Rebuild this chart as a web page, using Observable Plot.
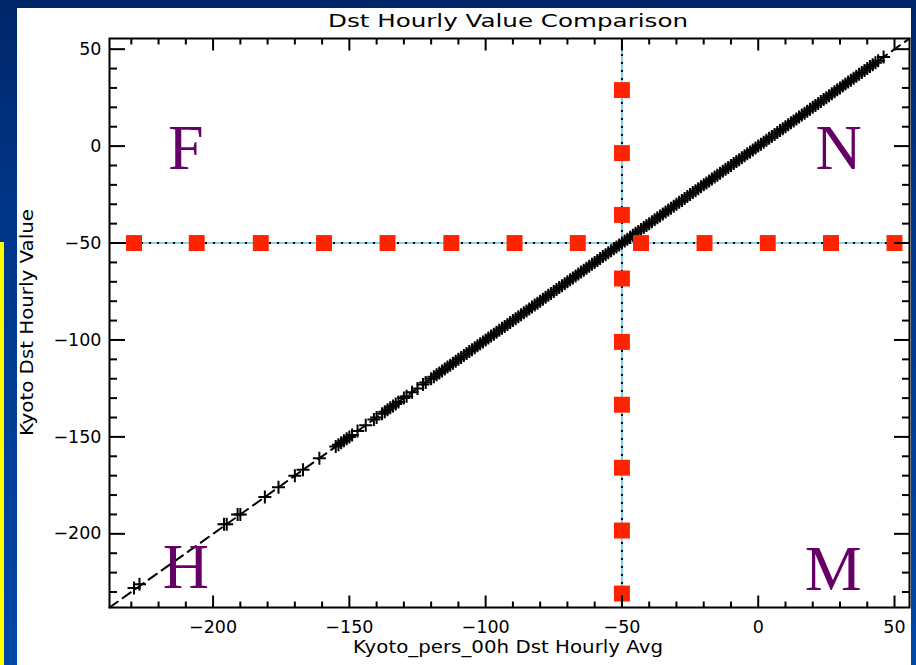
<!DOCTYPE html>
<html><head><meta charset="utf-8">
<script src="https://cdn.jsdelivr.net/npm/d3@7"></script>
<script src="https://cdn.jsdelivr.net/npm/@observablehq/plot@0.6"></script>
<style>
body{margin:0;}
#wrap{position:relative;width:916px;height:665px;overflow:hidden;background:linear-gradient(to bottom,#00266a 0%,#00378a 35%,#0047a6 100%);}
#yellow{position:absolute;left:0;top:242px;width:4px;height:423px;background:#ffff00;}
#panel{position:absolute;left:17px;top:8px;width:894px;height:657px;background:#fff;}
#chart{position:absolute;left:0;top:0;}
</style></head><body>
<div id="wrap"><div id="yellow"></div><div id="panel"></div><div id="chart"></div></div>
<script>
const titleText = "Dst Hourly Value Comparison";
const xLabel = "Kyoto_pers_00h Dst Hourly Avg";
const yLabel = "Kyoto Dst Hourly Value";
const axisDomain = [-238, 55.5];
const majorTicks = [-200, -150, -100, -50, 0, 50];
const minorTicks = [-230, -220, -210, -190, -180, -170, -160, -140, -130, -120, -110, -90, -80, -70, -60, -40, -30, -20, -10, 10, 20, 30, 40];
const threshold = [-50];

// Kyoto_pers_00h hourly average (x) and Kyoto Dst (y)
const persAvg = [
-229, -227, -196, -195, -191, -190, -181, -176, -170, -167, -161,
-155, -154, -153, -152, -151, -150, -149, -147, -144, -141, -140,
-138, -137, -136, -135, -134, -133, -132, -130, -129, -127, -125, -123, -122,
-120, -119, -118, -117, -116, -115, -114, -113, -112, -111, -110,
-109, -108, -107, -106, -105, -104, -103, -102, -101, -100,
-99, -98, -97, -96, -95, -94, -93, -92, -91, -90,
-89, -88, -87, -86, -85, -84, -83, -82, -81, -80,
-79, -78, -77, -76, -75, -74, -73, -72, -71, -70,
-69, -68, -67, -66, -65, -64, -63, -62, -61, -60,
-59, -58, -57, -56, -55, -54, -53, -52, -51, -50,
-49, -48, -47, -46, -45, -44, -43, -42, -41, -40,
-39, -38, -37, -36, -35, -34, -33, -32, -31, -30,
-29, -28, -27, -26, -25, -24, -23, -22, -21, -20,
-19, -18, -17, -16, -15, -14, -13, -12, -11, -10,
-9, -8, -7, -6, -5, -4, -3, -2, -1, 0,
1, 2, 3, 4, 5, 6, 7, 8, 9, 10,
11, 12, 13, 14, 15, 16, 17, 18, 19, 20,
21, 22, 23, 24, 25, 26, 27, 28, 29, 30,
31, 32, 33, 34, 35, 36, 37, 38, 39, 40,
41, 42, 43, 44, 46
];
const kyotoDst = [
-228, -226, -195, -195, -190, -190, -181, -176, -170, -167, -161,
-155, -154, -153, -152, -151, -150, -149, -147, -144, -141, -140,
-138, -137, -136, -135, -134, -133, -132, -130, -129, -127, -125, -123, -122,
-120, -119, -118, -117, -116, -115, -114, -113, -112, -111, -110,
-109, -108, -107, -106, -105, -104, -103, -102, -101, -100,
-99, -98, -97, -96, -95, -94, -93, -92, -91, -90,
-89, -88, -87, -86, -85, -84, -83, -82, -81, -80,
-79, -78, -77, -76, -75, -74, -73, -72, -71, -70,
-69, -68, -67, -66, -65, -64, -63, -62, -61, -60,
-59, -58, -57, -56, -55, -54, -53, -52, -51, -50,
-49, -48, -47, -46, -45, -44, -43, -42, -41, -40,
-39, -38, -37, -36, -35, -34, -33, -32, -31, -30,
-29, -28, -27, -26, -25, -24, -23, -22, -21, -20,
-19, -18, -17, -16, -15, -14, -13, -12, -11, -10,
-9, -8, -7, -6, -5, -4, -3, -2, -1, 0,
1, 2, 3, 4, 5, 6, 7, 8, 9, 10,
11, 12, 13, 14, 15, 16, 17, 18, 19, 20,
21, 22, 23, 24, 25, 26, 27, 28, 29, 30,
31, 32, 33, 34, 35, 36, 37, 38, 39, 40,
41, 42, 43, 44, 46
];

// red threshold markers
const hMarkX = [-229, -206, -182.5, -159.3, -136, -112.6, -89.4, -66.2, -43, -19.7, 3.5, 26.7, 50];
const hMarkY = [-50, -50, -50, -50, -50, -50, -50, -50, -50, -50, -50, -50, -50];
const vMarkX = [-50, -50, -50, -50, -50, -50, -50, -50, -50];
const vMarkY = [28.9, -3.6, -35.5, -68.3, -101, -133.4, -165.9, -198.3, -230.8];

// quadrant letters
const quadLabels = ["F", "N", "H", "M"];
const quadX = [-210, 29.5, -210, 27.5];
const quadY = [-1.4, -1.4, -217.2, -218.5];

const points = persAvg.map((x, i) => ({x, y: kyotoDst[i]}));
const hMarks = hMarkX.map((x, i) => ({x, y: hMarkY[i]}));
const vMarks = vMarkX.map((x, i) => ({x, y: vMarkY[i]}));
const quads = quadLabels.map((t, i) => ({t, x: quadX[i], y: quadY[i]}));

const plusSymbol = {
  draw(ctx, size) {
    const r = Math.sqrt(size / Math.PI);
    ctx.moveTo(-r, 0); ctx.lineTo(r, 0);
    ctx.moveTo(0, -r); ctx.lineTo(0, r);
  }
};
const fmt = d => (d < 0 ? "\u2212" : "") + Math.abs(d);
const axisCommon = {strokeWidth: 2, label: null};

const chart = Plot.plot({
  width: 916, height: 665,
  marginLeft: 109, marginRight: 7, marginTop: 38, marginBottom: 58,
  style: {background: "transparent", fontFamily: "DejaVu Sans", fontSize: "17.5px", color: "black"},
  x: {domain: axisDomain},
  y: {domain: axisDomain},
  marks: [
    Plot.ruleY(threshold, {stroke: "#5cc3e6", strokeWidth: 1.6}),
    Plot.ruleX(threshold, {stroke: "#5cc3e6", strokeWidth: 1.6}),
    Plot.ruleY(threshold, {stroke: "black", strokeWidth: 2, strokeDasharray: "2,6"}),
    Plot.ruleX(threshold, {stroke: "black", strokeWidth: 2, strokeDasharray: "2,6"}),
    Plot.line(axisDomain, {x: d => d, y: d => d, stroke: "black", strokeWidth: 2, strokeDasharray: "10,6"}),
    Plot.dot(points, {x: "x", y: "y", symbol: plusSymbol, r: 6.5, stroke: "black", strokeWidth: 2, fill: "none"}),
    Plot.dot(hMarks, {x: "x", y: "y", symbol: "square", r: 9, fill: "#ff2400"}),
    Plot.dot(vMarks, {x: "x", y: "y", symbol: "square", r: 9, fill: "#ff2400"}),
    Plot.text(quads, {x: "x", y: "y", text: "t", fill: "#660066", fontFamily: "Liberation Serif", fontSize: 64, textAnchor: "middle", lineAnchor: "middle"}),
    Plot.frame({stroke: "black", strokeWidth: 2}),
    Plot.axisX(majorTicks, {...axisCommon, anchor: "bottom", tickSize: -11.5, tickPadding: 25, tickFormat: fmt}),
    Plot.axisX(minorTicks, {...axisCommon, anchor: "bottom", tickSize: -5.5, fill: "none"}),
    Plot.axisX(majorTicks, {...axisCommon, anchor: "top", tickSize: -11.5, fill: "none"}),
    Plot.axisX(minorTicks, {...axisCommon, anchor: "top", tickSize: -5.5, fill: "none"}),
    Plot.axisY(majorTicks, {...axisCommon, anchor: "left", tickSize: -16, tickPadding: 24, tickFormat: fmt}),
    Plot.axisY(minorTicks, {...axisCommon, anchor: "left", tickSize: -8, fill: "none"}),
    Plot.axisY(majorTicks, {...axisCommon, anchor: "right", tickSize: -16, fill: "none"}),
    Plot.axisY(minorTicks, {...axisCommon, anchor: "right", tickSize: -8, fill: "none"})
  ]
});
document.getElementById("chart").appendChild(chart);

const svg = d3.select(chart);
svg.append("text").text(titleText)
  .attr("x", 508).attr("y", 27).attr("text-anchor", "middle")
  .attr("textLength", 360).attr("lengthAdjust", "spacingAndGlyphs")
  .style("font-family", "DejaVu Sans").style("font-size", "18px").attr("fill", "black");
svg.append("text").text(xLabel)
  .attr("x", 508).attr("y", 653).attr("text-anchor", "middle")
  .attr("textLength", 310).attr("lengthAdjust", "spacingAndGlyphs")
  .style("font-family", "DejaVu Sans").style("font-size", "17px").attr("fill", "black");
svg.append("text").text(yLabel)
  .attr("transform", "translate(33,322.5) rotate(-90)").attr("text-anchor", "middle")
  .attr("textLength", 227).attr("lengthAdjust", "spacingAndGlyphs")
  .style("font-family", "DejaVu Sans").style("font-size", "17px").attr("fill", "black");
</script>
</body></html>
